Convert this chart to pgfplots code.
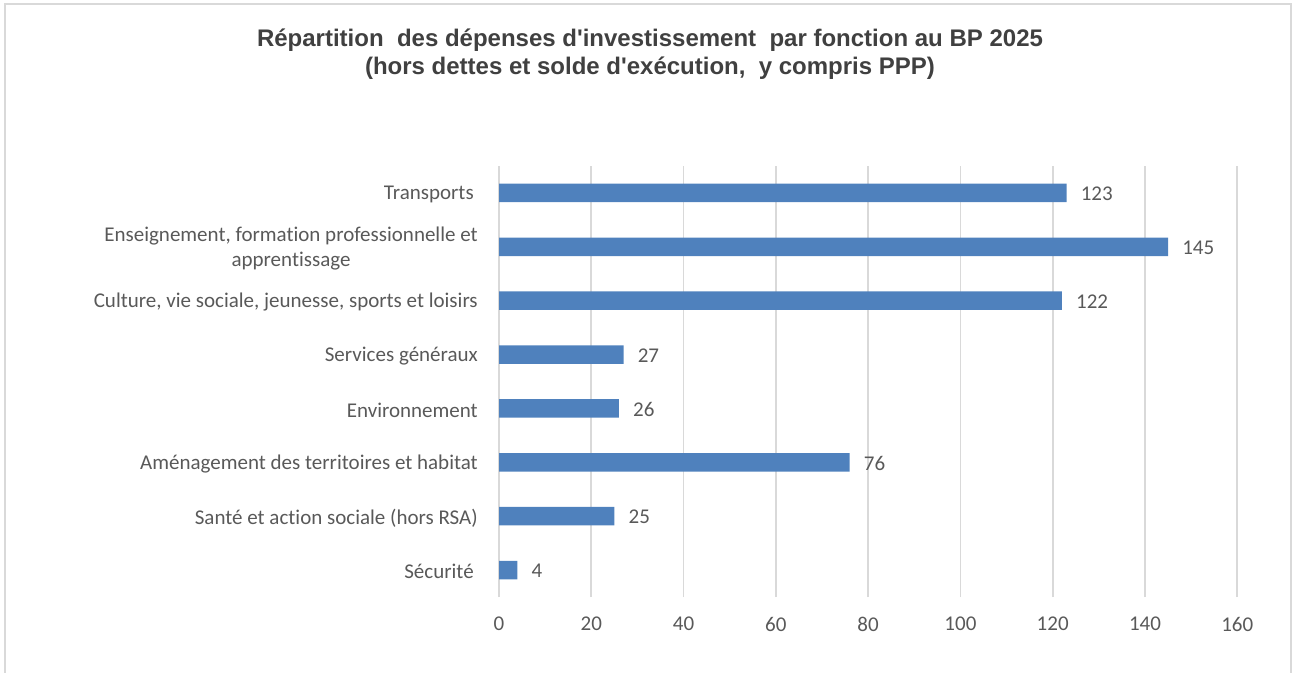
\documentclass[border=0pt]{standalone}
\usepackage{fontspec}
\setmainfont{Carlito}[Ligatures=NoCommon]
\newfontfamily\titlefont{Liberation Sans}
\usepackage{pgfplots}
\pgfplotsset{compat=1.18}
\definecolor{barblue}{HTML}{4F81BD}
\definecolor{gridgray}{HTML}{D9D9D9}
\definecolor{labgray}{HTML}{595959}
\definecolor{titlegray}{HTML}{404040}
\begin{document}
\begin{tikzpicture}
\path[use as bounding box] (0,0) rectangle (969pt,-504.75pt);
\draw[gridgray, line width=1.1pt] (3.75pt,-504.75pt) -- (3.75pt,-3pt) -- (968.25pt,-3pt) -- (968.25pt,-504.75pt);
\node[font=\titlefont\bfseries\fontsize{18}{22}\selectfont, text=titlegray, anchor=base, inner sep=0pt] at (487.5pt,-35.25pt) {Répartition\ \ des dépenses d'investissement\ \ par fonction au BP 2025};
\node[font=\titlefont\bfseries\fontsize{18}{22}\selectfont, text=titlegray, anchor=base, inner sep=0pt] at (487.5pt,-56pt) {(hors dettes et solde d'exécution,\ \ y compris PPP)};
\begin{axis}[
  at={(374.25pt,-447.75pt)}, anchor=south west,
  scale only axis, width=553.7pt, height=323.25pt,
  xmin=0, xmax=160, ymin=-0.5, ymax=7.5,
  xtick={0,20,...,160}, ytick={0,...,7},
  yticklabels={Sécurité\kern3pt, Santé et action sociale (hors RSA), Aménagement des territoires et habitat, Environnement, Services généraux, {Culture, vie sociale, jeunesse, sports et loisirs}, {Enseignement, formation professionnelle et\\apprentissage}, Transports\kern3pt},
  xmajorgrids, grid style={gridgray, line width=1.2pt},
  axis line style={draw=none},
  major tick length=0pt,
  tick label style={font=\fontsize{15.75}{19}\selectfont, text=labgray},
  yticklabel style={anchor=east, inner sep=0pt, xshift=-15.75pt, yshift=-1.3pt, align=center},
  xticklabel style={anchor=north, inner sep=0pt, yshift=-15pt},
  /pgf/number format/assume math mode=true,
  xbar, bar width=13.8pt,
  point meta=x,
  nodes near coords,
  nodes near coords style={anchor=west, inner sep=0pt, xshift=10.5pt, yshift=-0.8pt, font=\fontsize{15.75}{19}\selectfont, text=labgray},
  clip=false,
]
\addplot[fill=barblue, draw=none] coordinates {(4,0) (25,1) (76,2) (26,3) (27,4) (122,5) (145,6) (123,7)};
\end{axis}
\end{tikzpicture}
\end{document}
